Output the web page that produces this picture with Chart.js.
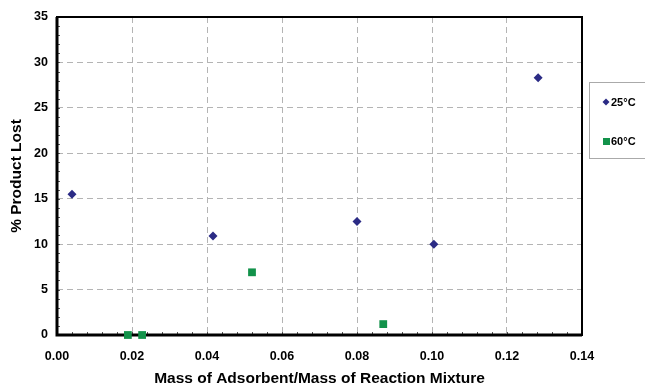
<!DOCTYPE html>
<html>
<head>
<meta charset="utf-8">
<script src="https://cdn.jsdelivr.net/npm/chart.js@4/dist/chart.umd.min.js"></script>
<style>
    html, body { margin: 0; padding: 0; background: #fff; }
    #wrap { width: 645px; height: 388px; position: relative; }
</style>
</head>
<body>
<div id="wrap"><canvas id="lossChart"></canvas></div>
<script>
// Data
const seriesLabels = ['25°C', '60°C'];
const x25 = [0.004, 0.0416, 0.080, 0.1005, 0.1283];
const y25 = [15.5, 10.9, 12.5, 10.0, 28.3];
const x60 = [0.0189, 0.0227, 0.052, 0.087];
const y60 = [0.0, 0.0, 6.9, 1.2];
const xTicks = [0, 0.02, 0.04, 0.06, 0.08, 0.10, 0.12, 0.14];
const yTicks = [0, 5, 10, 15, 20, 25, 30, 35];

const colors = {
    navy: '#2b2b85',
    green: '#12924a',
    grid: '#b4b4b4'
};

const fontFamily = '"Liberation Sans", Arial, sans-serif';
const toPoints = (xs, ys) => xs.map((x, i) => ({ x: x, y: ys[i] }));

// frame and minor ticks go under the markers
const framePlugin = {
    id: 'frame',
    beforeDatasetsDraw(chart) {
        const { ctx, chartArea: a, scales } = chart;
        ctx.save();
        ctx.setLineDash([]);
        ctx.strokeStyle = '#555';
        ctx.lineWidth = 1;
        for (let v = 0; v <= 0.14 + 1e-9; v += 0.004) {
            const px = Math.round(scales.x.getPixelForValue(v)) + 0.5;
            ctx.beginPath();
            ctx.moveTo(px, a.bottom);
            ctx.lineTo(px, a.bottom - 3);
            ctx.stroke();
        }
        for (let v = 0; v <= 35; v += 1) {
            const py = Math.round(scales.y.getPixelForValue(v)) + 0.5;
            ctx.beginPath();
            ctx.moveTo(a.left, py);
            ctx.lineTo(a.left + 3, py);
            ctx.stroke();
        }
        ctx.strokeStyle = '#000';
        ctx.lineWidth = 2;
        ctx.strokeRect(a.left, a.top, a.right - a.left, a.bottom - a.top);
        ctx.lineWidth = 3;
        ctx.beginPath();
        ctx.moveTo(a.left, a.top);
        ctx.lineTo(a.left, a.bottom);
        ctx.lineTo(a.right, a.bottom);
        ctx.stroke();
        ctx.restore();
    },
    // boxed legend at the right edge
    afterDraw(chart) {
        const { ctx } = chart;
        ctx.save();
        const lx = 589, ly = 82, lw = 62, lh = 76;
        ctx.lineWidth = 1;
        ctx.strokeStyle = '#aaa';
        ctx.strokeRect(lx + 0.5, ly + 0.5, lw, lh);
        ctx.font = 'bold 11px ' + fontFamily;
        ctx.textBaseline = 'middle';
        ctx.fillStyle = colors.navy;
        ctx.beginPath();
        ctx.moveTo(606, 98.5);
        ctx.lineTo(609.5, 102);
        ctx.lineTo(606, 105.5);
        ctx.lineTo(602.5, 102);
        ctx.closePath();
        ctx.fill();
        ctx.fillStyle = '#000';
        ctx.fillText(seriesLabels[0], 611, 102.5);
        ctx.fillStyle = colors.green;
        ctx.fillRect(603, 138, 7, 7);
        ctx.fillStyle = '#000';
        ctx.fillText(seriesLabels[1], 611, 142);
        ctx.restore();
    }
};

const tickFont = { family: fontFamily, size: 12.5, weight: 'bold' };
const titleFont = { family: fontFamily, size: 15.5, weight: 'bold' };

new Chart(document.getElementById('lossChart'), {
    type: 'scatter',
    data: {
        datasets: [
            {
                label: seriesLabels[0],
                data: toPoints(x25, y25),
                pointStyle: 'rectRot',
                pointRadius: 4.5,
                backgroundColor: colors.navy,
                borderColor: colors.navy,
                borderWidth: 0
            },
            {
                label: seriesLabels[1],
                data: toPoints(x60, y60),
                pointStyle: 'rect',
                pointRadius: 5.5,
                backgroundColor: colors.green,
                borderColor: colors.green,
                borderWidth: 0
            }
        ]
    },
    options: {
        responsive: true,
        maintainAspectRatio: false,
        animation: false,
        clip: false,
        layout: { padding: { top: 17, right: 63, left: 0, bottom: 0 } },
        plugins: {
            legend: { display: false },
            tooltip: { enabled: false }
        },
        scales: {
            x: {
                type: 'linear',
                min: 0,
                max: 0.14,
                afterBuildTicks: (s) => { s.ticks = xTicks.map(v => ({ value: v })); },
                afterFit: (s) => { s.height = 53; },
                ticks: {
                    color: '#000',
                    font: tickFont,
                    padding: 14,
                    maxRotation: 0,
                    callback: (v) => Number(v).toFixed(2)
                },
                grid: {
                    color: colors.grid,
                    drawTicks: false
                },
                border: { display: true, color: 'rgba(0,0,0,0)', width: 0, dash: [6, 4] },
                title: {
                    display: true,
                    text: 'Mass of Adsorbent/Mass of Reaction Mixture',
                    color: '#000',
                    font: titleFont,
                    padding: { top: 2, bottom: 0 }
                }
            },
            y: {
                type: 'linear',
                min: 0,
                max: 35,
                afterBuildTicks: (s) => { s.ticks = yTicks.map(v => ({ value: v })); },
                afterFit: (s) => { s.width = 57; },
                ticks: {
                    color: '#000',
                    font: tickFont,
                    padding: 9
                },
                grid: {
                    color: colors.grid,
                    drawTicks: false
                },
                border: { display: true, color: 'rgba(0,0,0,0)', width: 0, dash: [6, 4] },
                title: {
                    display: true,
                    text: '% Product Lost',
                    color: '#000',
                    font: titleFont,
                    padding: { top: 7, bottom: 0 }
                }
            }
        }
    },
    plugins: [framePlugin]
});
</script>
</body>
</html>
